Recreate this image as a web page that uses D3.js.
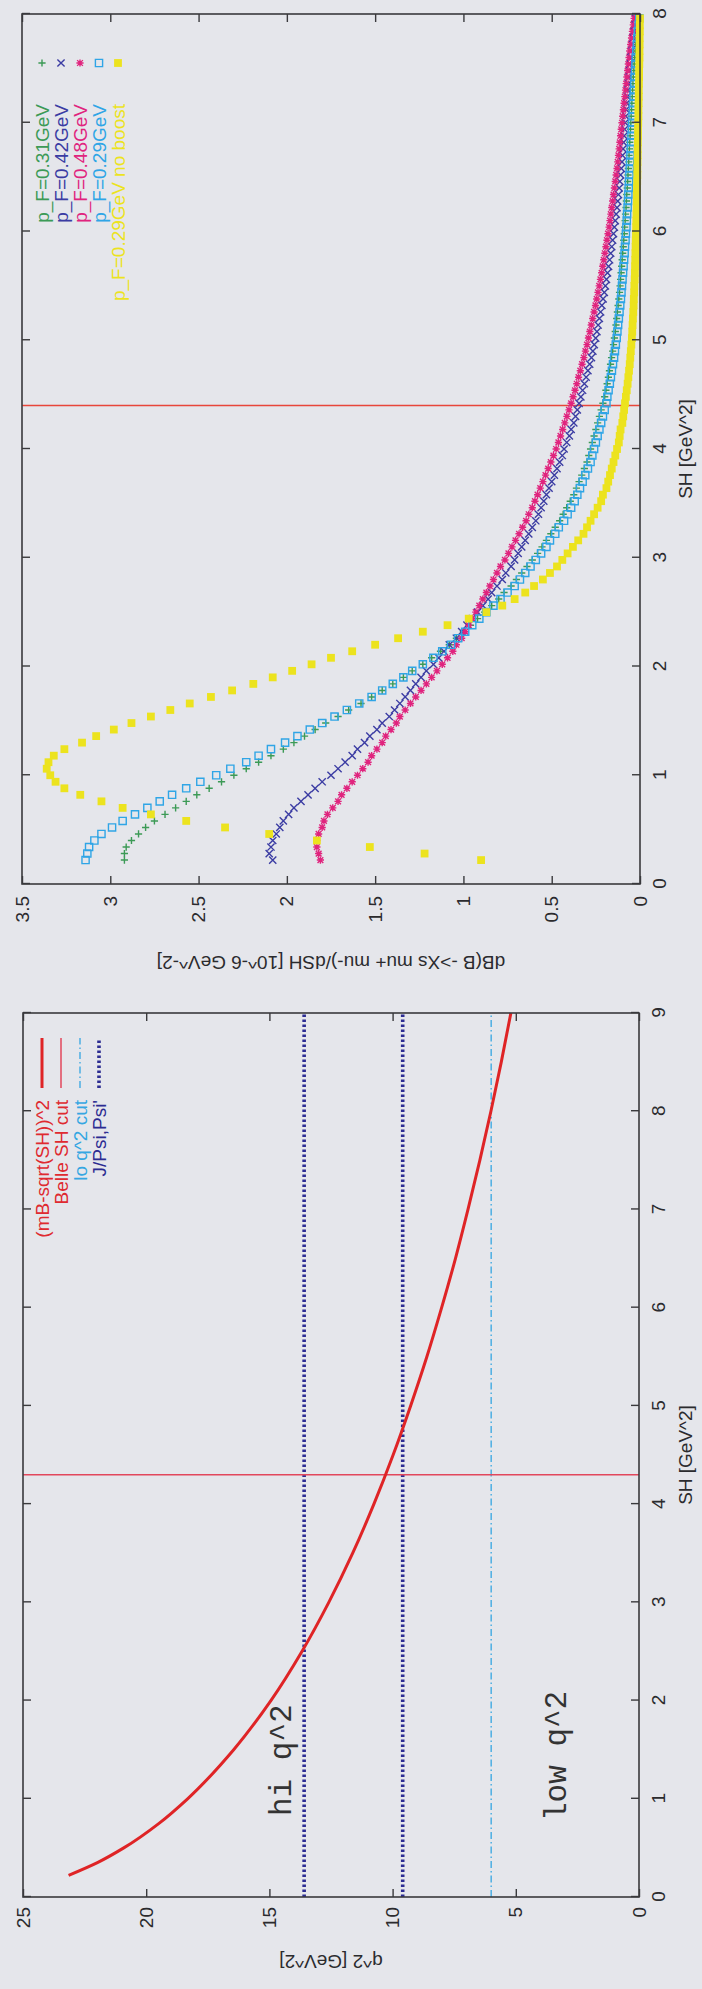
<!DOCTYPE html>
<html>
<head>
<meta charset="utf-8">
<script src="https://cdn.jsdelivr.net/npm/d3@7"></script>
<style>
  body { margin: 0; background: #e5e6eb; }
  svg { display: block; }
</style>
</head>
<body>
<svg id="chart"></svg>
<script>
// ---------------------------------------------------------------- data
// left panel : q^2 vs SH
const kinSH = [0.22,0.35,0.5,0.75,1,1.5,2,2.5,3,3.5,4,4.5,5,5.5,6,6.5,7,7.5,8,8.5,9];
const kinQ2 = [23.15,21.98,20.91,19.48,18.32,16.45,14.94,13.68,12.59,11.62,10.76,9.98,9.27,8.61,8.01,7.45,6.94,6.46,6.01,5.59,5.20];
const belleCutLeft = 4.3;
const loQ2Cut = 6.0;
const charmQ2 = [9.59, 13.59];
const q2Ticks = [0,5,10,15,20,25];
const shTicksLeft = [0,1,2,3,4,5,6,7,8,9];
const leftLegend = ["(mB-sqrt(SH))^2", "Belle SH cut", "lo q^2 cut", "J/Psi,Psi'"];

// right panel : dB/dSH, sampled every 0.06 GeV^2 from SH = 0.22
const belleCutRight = 4.4;
const shStart = 0.22, shStep = 0.06;
const pf031 = [2.92,2.92,2.91,2.88,2.84,2.80,2.75,2.69,2.63,2.57,
  2.51,2.44,2.37,2.30,2.23,2.16,2.09,2.02,1.96,1.90,
  1.84,1.78,1.71,1.65,1.58,1.52,1.46,1.40,1.34,1.29,
  1.23,1.18,1.13,1.08,1.04,1.00,0.96,0.92,0.88,0.84,
  0.80,0.77,0.73,0.70,0.67,0.64,0.61,0.58,0.555,0.53,
  0.505,0.48,0.455,0.435,0.415,0.395,0.375,0.36,0.345,0.33,
  0.315,0.30,0.29,0.28,0.27,0.26,0.25,0.24,0.23,0.22,
  0.21,0.20,0.193,0.186,0.179,0.173,0.167,0.161,0.155,0.150,
  0.145,0.140,0.136,0.132,0.128,0.124,0.120,0.116,0.113,0.110,
  0.107,0.104,0.101,0.098,0.095,0.092,0.089,0.087,0.084,0.082,
  0.079,0.077,0.075,0.072,0.070,0.068,0.066,0.064,0.062,0.060,
  0.058,0.056,0.054,0.052,0.050,0.048,0.046,0.044,0.042,0.040,
  0.038,0.035,0.033,0.030,0.027,0.024,0.020,0.016,0.012,0.007];
const pf042 = [2.08,2.10,2.09,2.08,2.06,2.04,2.02,1.99,1.96,1.92,
  1.88,1.84,1.80,1.75,1.71,1.67,1.63,1.60,1.56,1.53,
  1.49,1.46,1.42,1.39,1.36,1.33,1.30,1.27,1.24,1.21,
  1.17,1.14,1.11,1.08,1.04,1.01,0.98,0.95,0.92,0.89,
  0.86,0.84,0.81,0.78,0.76,0.73,0.71,0.69,0.67,0.65,
  0.63,0.61,0.59,0.575,0.56,0.545,0.53,0.515,0.50,0.485,
  0.47,0.455,0.44,0.43,0.415,0.40,0.39,0.375,0.365,0.355,
  0.345,0.335,0.325,0.315,0.305,0.295,0.285,0.275,0.267,0.259,
  0.251,0.244,0.237,0.230,0.223,0.216,0.209,0.202,0.196,0.190,
  0.184,0.178,0.172,0.166,0.160,0.155,0.150,0.145,0.140,0.135,
  0.130,0.126,0.122,0.118,0.114,0.110,0.106,0.102,0.099,0.096,
  0.093,0.090,0.087,0.084,0.081,0.078,0.075,0.072,0.069,0.066,
  0.063,0.060,0.056,0.052,0.048,0.044,0.040,0.035,0.030,0.024];
const pf048 = [1.81,1.82,1.83,1.83,1.82,1.80,1.79,1.77,1.74,1.71,
  1.69,1.66,1.63,1.60,1.57,1.54,1.52,1.49,1.46,1.44,
  1.41,1.38,1.36,1.33,1.30,1.27,1.24,1.21,1.18,1.15,
  1.12,1.09,1.06,1.04,1.01,0.99,0.97,0.95,0.93,0.91,
  0.89,0.87,0.85,0.83,0.81,0.79,0.765,0.745,0.725,0.705,
  0.685,0.665,0.645,0.63,0.61,0.595,0.58,0.565,0.55,0.535,
  0.52,0.505,0.49,0.475,0.462,0.45,0.438,0.426,0.414,0.402,
  0.39,0.379,0.368,0.358,0.348,0.338,0.328,0.318,0.309,0.30,
  0.292,0.284,0.276,0.268,0.26,0.252,0.245,0.238,0.231,0.224,
  0.217,0.211,0.205,0.199,0.193,0.187,0.181,0.175,0.170,0.165,
  0.160,0.155,0.150,0.145,0.140,0.135,0.130,0.126,0.122,0.118,
  0.114,0.110,0.106,0.102,0.098,0.094,0.090,0.086,0.082,0.078,
  0.074,0.070,0.066,0.062,0.058,0.053,0.048,0.043,0.038,0.033];
const pf029 = [3.14,3.13,3.12,3.09,3.05,2.99,2.93,2.86,2.79,2.72,
  2.65,2.57,2.49,2.40,2.32,2.23,2.16,2.09,2.01,1.94,
  1.87,1.80,1.73,1.66,1.59,1.52,1.46,1.40,1.34,1.29,
  1.23,1.17,1.12,1.07,1.03,0.99,0.95,0.91,0.87,0.83,
  0.79,0.75,0.71,0.68,0.65,0.62,0.59,0.56,0.53,0.51,
  0.48,0.46,0.43,0.41,0.39,0.37,0.355,0.34,0.325,0.31,
  0.295,0.28,0.27,0.26,0.25,0.24,0.23,0.22,0.21,0.20,
  0.19,0.185,0.178,0.171,0.165,0.159,0.153,0.147,0.142,0.137,
  0.132,0.128,0.124,0.12,0.116,0.112,0.108,0.105,0.102,0.099,
  0.096,0.093,0.090,0.087,0.085,0.082,0.080,0.077,0.075,0.073,
  0.070,0.068,0.066,0.064,0.062,0.060,0.058,0.056,0.054,0.052,
  0.050,0.048,0.046,0.044,0.042,0.040,0.038,0.036,0.034,0.032,
  0.030,0.028,0.026,0.024,0.021,0.018,0.015,0.012,0.008,0.004];
const pf029NoBoost = [0.90,1.22,1.53,1.83,2.10,2.35,2.57,2.77,2.93,3.05,
  3.17,3.26,3.31,3.34,3.36,3.35,3.32,3.26,3.16,3.08,
  2.98,2.88,2.77,2.66,2.55,2.43,2.31,2.19,2.08,1.97,
  1.86,1.75,1.63,1.50,1.37,1.23,1.09,0.97,0.87,0.78,
  0.71,0.65,0.60,0.55,0.51,0.47,0.44,0.41,0.38,0.35,
  0.32,0.30,0.28,0.26,0.24,0.22,0.21,0.19,0.18,0.17,
  0.16,0.15,0.14,0.13,0.12,0.115,0.11,0.10,0.095,0.09,
  0.085,0.08,0.075,0.07,0.066,0.062,0.058,0.055,0.052,0.049,
  0.046,0.044,0.042,0.040,0.038,0.036,0.035,0.033,0.032,0.030,
  0.029,0.028,0.027,0.026,0.025,0.024,0.023,0.022,0.021,0.020,
  0.019,0.018,0.018,0.017,0.016,0.015,0.015,0.014,0.013,0.013,
  0.012,0.011,0.011,0.010,0.009,0.009,0.008,0.007,0.007,0.006,
  0.005,0.005,0.004,0.003,0.003,0.002,0.002,0.001,0.001,0.000];
const rightLegend = ["p_F=0.31GeV", "p_F=0.42GeV", "p_F=0.48GeV", "p_F=0.29GeV", "p_F=0.29GeV no boost"];
const rateTicks = [0,0.5,1,1.5,2,2.5,3,3.5];
const shTicksRight = [0,1,2,3,4,5,6,7,8];

// ---------------------------------------------------------------- page
// the figure is a landscape gnuplot page turned onto a portrait sheet
const pageW = 702, pageH = 1989;
const fontsize = 19;
const font = "'Liberation Sans', Arial, Helvetica, sans-serif";
const ink = "#2b2b2e";

const svg = d3.select('#chart')
  .attr('width', pageW)
  .attr('height', pageH);

svg.append('rect').attr('width', pageW).attr('height', pageH).attr('fill', '#e5e6eb');

// landscape coordinates: x along SH (0..1989), y top->bottom (0..702)
const land = svg.append('g')
  .attr('transform', `translate(0,${pageH}) rotate(-90)`);

//************************************* shared frame + ticks (gnuplot style, mirrored, inward)
function frame(g, x, y, xTicks, yTicks, yPad) {
  const [x0, x1] = x.range();
  const [y0, y1] = y.range();

  const bottom = g.append('g').attr('transform', `translate(0,${y0})`)
    .call(d3.axisBottom(x).tickValues(xTicks).tickSizeInner(-8).tickSizeOuter(0).tickPadding(13));
  g.append('g').attr('transform', `translate(0,${y1})`)
    .call(d3.axisTop(x).tickValues(xTicks).tickSizeInner(-8).tickSizeOuter(0).tickFormat(''));
  const left = g.append('g').attr('transform', `translate(${x0},0)`)
    .call(d3.axisLeft(y).tickValues(yTicks).tickSizeInner(-8).tickSizeOuter(0).tickPadding(yPad).tickFormat(d => String(d)));
  g.append('g').attr('transform', `translate(${x1},0)`)
    .call(d3.axisRight(y).tickValues(yTicks).tickSizeInner(-8).tickSizeOuter(0).tickFormat(''));

  g.selectAll('.domain').remove();
  g.selectAll('.tick line').attr('stroke', '#3a3a3d').attr('stroke-width', 1.4);
  [bottom, left].forEach(a => a.selectAll('text')
    .attr('fill', ink)
    .style('font-size', fontsize + 'px')
    .style('font-family', font));

  g.append('rect')
    .attr('x', x0).attr('y', y1)
    .attr('width', x1 - x0).attr('height', y0 - y1)
    .attr('fill', 'none')
    .attr('stroke', '#3a3a3d')
    .attr('stroke-width', 1.6);
}

function label(g, text, x, y, rot) {
  g.append('text')
    .attr('transform', `translate(${x},${y}) rotate(${rot})`)
    .attr('text-anchor', 'middle')
    .attr('dy', '0.35em')
    .attr('fill', ink)
    .style('font-size', fontsize + 'px')
    .style('font-family', font)
    .text(text);
}

//************************************* left panel: q^2 vs SH
const xL = d3.scaleLinear().domain([0, 9]).range([92, 976]);
const yL = d3.scaleLinear().domain([0, 25]).range([639, 23]);
const gL = land.append('g').attr('class', 'left');

const leftStyles = [
  { color: '#df2426', width: 3, dash: null },
  { color: '#e2475c', width: 1.5, dash: null },
  { color: '#35a6e2', width: 1.3, dash: '7,3,1.5,3' },
  { color: '#2c2c92', width: 3.6, dash: '2.6,2.4' }
];

// lo q^2 cut
gL.append('line')
  .attr('x1', xL(0)).attr('x2', xL(9))
  .attr('y1', yL(loQ2Cut)).attr('y2', yL(loQ2Cut))
  .attr('stroke', leftStyles[2].color).attr('stroke-width', leftStyles[2].width)
  .attr('stroke-dasharray', leftStyles[2].dash);

// J/psi, psi'
gL.selectAll('.charm')
  .data(charmQ2)
  .enter()
  .append('line')
  .attr('class', 'charm')
  .attr('x1', xL(0)).attr('x2', xL(9))
  .attr('y1', d => yL(d)).attr('y2', d => yL(d))
  .attr('stroke', leftStyles[3].color).attr('stroke-width', leftStyles[3].width)
  .attr('stroke-dasharray', leftStyles[3].dash);

// Belle cut
gL.append('line')
  .attr('x1', xL(belleCutLeft)).attr('x2', xL(belleCutLeft))
  .attr('y1', yL(0)).attr('y2', yL(25))
  .attr('stroke', leftStyles[1].color).attr('stroke-width', leftStyles[1].width);

// kinematic curve
const kin = kinSH.map((s, i) => ({ s: s, q: kinQ2[i] }));
gL.append('path')
  .datum(kin)
  .attr('d', d3.line().x(d => xL(d.s)).y(d => yL(d.q)).curve(d3.curveMonotoneX))
  .attr('fill', 'none')
  .attr('stroke', leftStyles[0].color)
  .attr('stroke-width', leftStyles[0].width);

frame(gL, xL, yL, shTicksLeft, q2Ticks, 10);

// region notes
gL.append('text').attr('x', 173).attr('y', 291).text('hi q^2')
  .attr('fill', '#333').style('font-size', '31px').style('font-family', "'Liberation Mono', 'Courier New', monospace");
gL.append('text').attr('x', 168).attr('y', 566).text('low q^2')
  .attr('fill', '#333').style('font-size', '31px').style('font-family', "'Liberation Mono', 'Courier New', monospace");

// legend
const legL = gL.selectAll('g.legend')
  .data(leftLegend)
  .enter()
  .append('g')
  .attr('class', 'legend')
  .attr('transform', (d, i) => `translate(0,${42 + i * 19})`);

legL.append('line')
  .attr('x1', 901).attr('x2', 951).attr('y1', 0).attr('y2', 0)
  .attr('stroke', (d, i) => leftStyles[i].color)
  .attr('stroke-width', (d, i) => leftStyles[i].width)
  .attr('stroke-dasharray', (d, i) => leftStyles[i].dash);

legL.append('text')
  .attr('x', 889).attr('dy', '0.35em')
  .attr('text-anchor', 'end')
  .attr('fill', (d, i) => i < 2 ? '#df2a30' : leftStyles[i].color)
  .style('font-size', fontsize + 'px')
  .style('font-family', font)
  .text(d => d);

label(gL, 'SH [GeV^2]', (92 + 976) / 2, 685, 0);
label(gL, 'q^2 [GeV^2]', 27, 331, -90);

//************************************* right panel: dB/dSH
const xR = d3.scaleLinear().domain([0, 8]).range([1105, 1975]);
const yR = d3.scaleLinear().domain([0, 3.5]).range([640, 22]);
const gR = land.append('g').attr('class', 'right');

const h = 3.6;
const shapes = {
  plus: `M${-h},0H${h}M0,${-h}V${h}`,
  cross: `M${-h},${-h}L${h},${h}M${-h},${h}L${h},${-h}`,
  star: `M${-h},0H${h}M0,${-h}V${h}M${-h * 0.8},${-h * 0.8}L${h * 0.8},${h * 0.8}M${-h * 0.8},${h * 0.8}L${h * 0.8},${-h * 0.8}`,
  box: `M${-h},${-h}H${h}V${h}H${-h}Z`,
  fbox: `M${-h - 0.3},${-h - 0.3}H${h + 0.3}V${h + 0.3}H${-h - 0.3}Z`
};

const series = [
  { key: rightLegend[0], values: pf031, color: '#3c9a56', shape: 'plus', fill: false },
  { key: rightLegend[1], values: pf042, color: '#3b3ca3', shape: 'cross', fill: false },
  { key: rightLegend[2], values: pf048, color: '#e0247e', shape: 'star', fill: false },
  { key: rightLegend[3], values: pf029, color: '#2fa5e6', shape: 'box', fill: false },
  { key: rightLegend[4], values: pf029NoBoost, color: '#ece31e', shape: 'fbox', fill: true }
];

// Belle cut
gR.append('line')
  .attr('x1', xR(belleCutRight)).attr('x2', xR(belleCutRight))
  .attr('y1', yR(0)).attr('y2', yR(3.5))
  .attr('stroke', '#e8463a').attr('stroke-width', 1.6);

series.forEach(s => {
  gR.append('g')
    .attr('class', 'series')
    .selectAll('path')
    .data(s.values)
    .enter()
    .append('path')
    .attr('transform', (d, i) => `translate(${xR(shStart + i * shStep)},${yR(d)})`)
    .attr('d', shapes[s.shape])
    .attr('fill', s.fill ? s.color : 'none')
    .attr('stroke', s.fill ? 'none' : s.color)
    .attr('stroke-width', 1.4);
});

frame(gR, xR, yR, shTicksRight, rateTicks, 12);

// legend
const legR = gR.selectAll('g.legend')
  .data(series)
  .enter()
  .append('g')
  .attr('class', 'legend')
  .attr('transform', (d, i) => `translate(0,${42 + i * 19})`);

legR.append('path')
  .attr('transform', 'translate(1926,0)')
  .attr('d', d => shapes[d.shape])
  .attr('fill', d => d.fill ? d.color : 'none')
  .attr('stroke', d => d.fill ? 'none' : d.color)
  .attr('stroke-width', 1.4);

legR.append('text')
  .attr('x', 1885).attr('dy', '0.35em')
  .attr('text-anchor', 'end')
  .attr('fill', d => d.color)
  .style('font-size', fontsize + 'px')
  .style('font-family', font)
  .text(d => d.key);

label(gR, 'SH [GeV^2]', (1105 + 1975) / 2, 685, 0);
label(gR, 'dB(B ->Xs mu+ mu-)/dSH [10^-6 GeV^-2]', 1026, 331, -90);
</script>
</body>
</html>
